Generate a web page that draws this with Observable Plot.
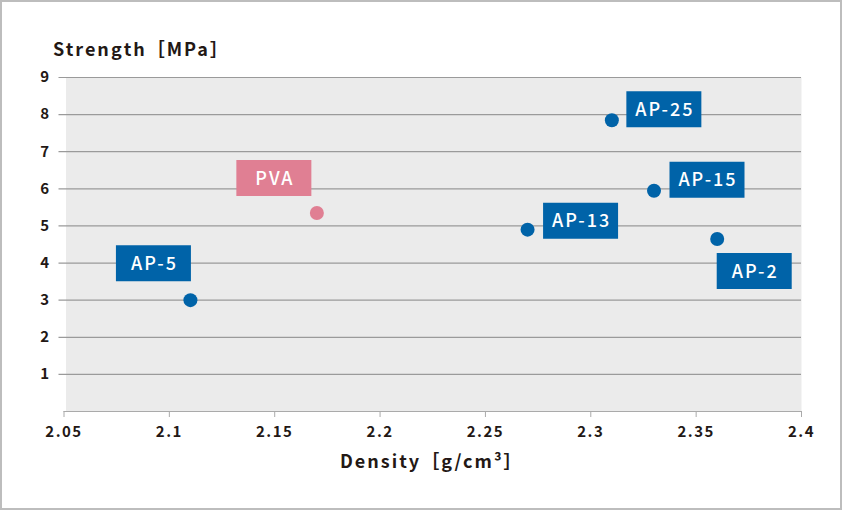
<!DOCTYPE html>
<html>
<head>
<meta charset="utf-8">
<script src="https://cdn.jsdelivr.net/npm/d3@7"></script>
<script src="https://cdn.jsdelivr.net/npm/@observablehq/plot@0.6"></script>
<style>
  html, body { margin: 0; padding: 0; background: #fff; }
  #wrap { position: relative; width: 842px; height: 510px; overflow: hidden; }
  #border { position: absolute; left: 0; top: 0; width: 842px; height: 510px; box-sizing: border-box; border: 2px solid #bdbdbd; pointer-events: none; }
  #chart { position: absolute; left: 0; top: 0; }
  .title { position: absolute; font-family: "Noto Sans CJK JP", "Noto Sans", sans-serif; font-weight: 600; color: #231815; font-size: 18px; letter-spacing: 2px; white-space: nowrap; line-height: 1; }
  .boxlabel text { letter-spacing: 2px; }
  .tickx text { letter-spacing: 1.5px; }
</style>
</head>
<body>
<div id="wrap">
  <div id="chart"></div>
  <div class="title" id="ytitle" style="left:53px; top:39px;">Strength［MPa］</div>
  <div class="title" id="xtitle" style="left:340px; top:451px;">Density［g/cm³］</div>
  <div id="border"></div>
</div>
<script>
// ---- data ----
const names    = ["AP-5", "PVA", "AP-13", "AP-25", "AP-15", "AP-2"];
const density  = [2.11, 2.17, 2.27, 2.31, 2.33, 2.36];
const strength = [3.0, 5.35, 4.9, 7.85, 5.95, 4.65];
const groups   = ["AP", "PVA", "AP", "AP", "AP", "AP"];
const xTicks   = [2.05, 2.1, 2.15, 2.2, 2.25, 2.3, 2.35, 2.4];
const yTicks   = [1, 2, 3, 4, 5, 6, 7, 8, 9];

// ---- styles ----
const colors = {AP: "#0063a8", PVA: "#e07f93"};
const labelOffset = {
  "AP-5": [-37, -37], "PVA": [-43, -35], "AP-13": [53, -9],
  "AP-25": [52, -11], "AP-15": [53, -11], "AP-2": [37, 32]
};
const boxW = 75, boxH = 36;
const boxSymbol = { draw(ctx) { ctx.rect(-boxW / 2, -boxH / 2, boxW, boxH); } };
const font = '"Noto Sans CJK JP", "Noto Sans", sans-serif';

const data = names.map((n, i) => ({name: n, x: density[i], y: strength[i], g: groups[i]}));

const labelMarks = data.flatMap(d => {
  const [dx, dy] = labelOffset[d.name];
  return [
    Plot.dot([d], {x: "x", y: "y", dx, dy, symbol: boxSymbol, fill: colors[d.g], stroke: null, r: 10}),
    Plot.text([d], {x: "x", y: "y", dx: dx + 1, dy: dy + 1, text: "name", fill: "#fff",
      fontSize: 18, fontWeight: 500, fontFamily: font, className: "boxlabel"})
  ];
});

const chart = Plot.plot({
  width: 842, height: 510,
  marginLeft: 63.5, marginRight: 41, marginTop: 77, marginBottom: 99,
  style: {fontFamily: font, background: "transparent", overflow: "visible"},
  x: {domain: [2.05, 2.4], ticks: xTicks},
  y: {domain: [0, 9], ticks: yTicks},
  marks: [
    Plot.frame({fill: "#ebebeb", stroke: null, insetLeft: 2}),
    Plot.ruleY(yTicks, {stroke: "#9a9a9a", strokeWidth: 1.2, x1: 2.05, x2: 2.4, insetLeft: -5}),
    Plot.ruleY([0], {stroke: "#aaaaaa", strokeWidth: 1.2}),
    Plot.axisX({ticks: xTicks, tickSize: 6, tickPadding: 9, stroke: "#aaaaaa", label: null,
      tickFormat: d => String(+d.toFixed(2)), className: "tickx",
      fontSize: 15, fontWeight: 600, fill: "#231815"}),
    Plot.axisY({ticks: yTicks, tickSize: 0, tickPadding: 15, label: null,
      fontSize: 15, fontWeight: 600, fill: "#231815"}),
    Plot.dot(data, {x: "x", y: "y", r: 7, fill: d => colors[d.g], stroke: null}),
    ...labelMarks
  ]
});
document.getElementById("chart").appendChild(chart);
</script>
</body>
</html>
